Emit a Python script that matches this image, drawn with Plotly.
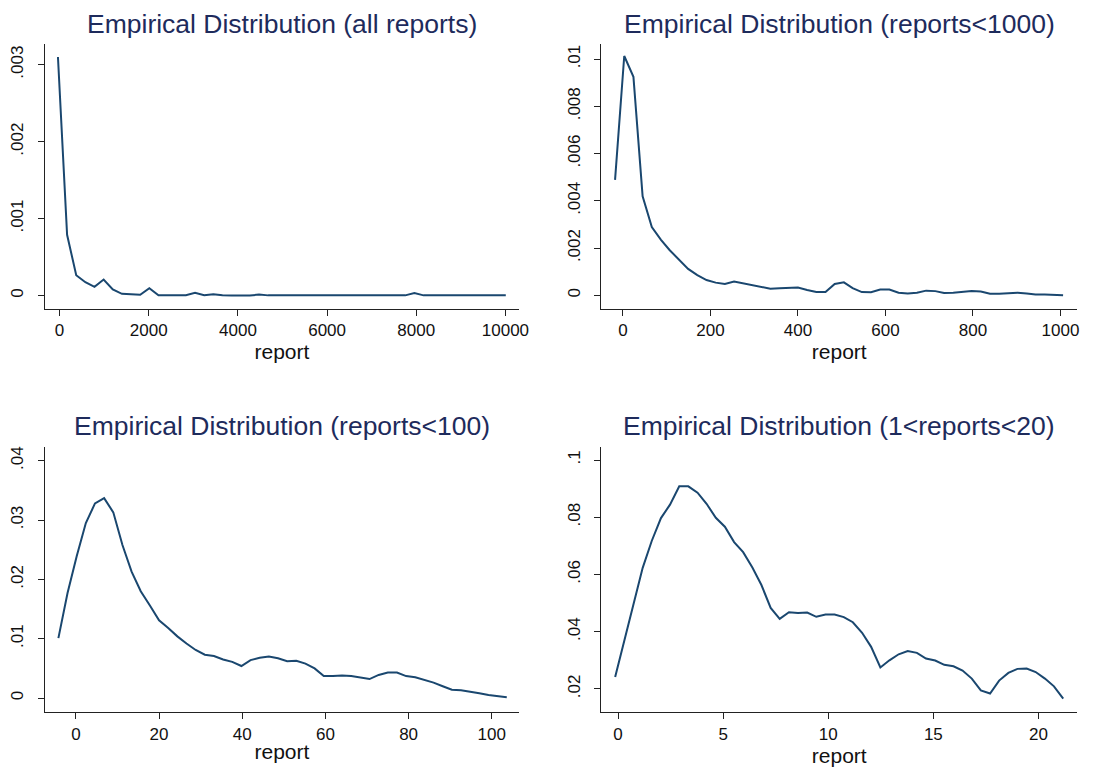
import plotly.graph_objects as go

# ---------------- data ----------------
titles = ["Empirical Distribution (all reports)",
          "Empirical Distribution (reports<1000)",
          "Empirical Distribution (reports<100)",
          "Empirical Distribution (1<reports<20)"]
x_label = "report"

# Panel 1: all reports
p1_x = [-37, 168, 373, 578, 783, 988, 1193, 1398, 1603, 1808,
        2013, 2218, 2423, 2628, 2833, 3038, 3243, 3448, 3653, 3858,
        4063, 4268, 4473, 4678, 4883, 5088, 5293, 5498, 5703, 5908,
        6113, 6318, 6523, 6728, 6933, 7138, 7343, 7548, 7753, 7958,
        8163, 8368, 8573, 8778, 8983, 9188, 9393, 9598, 9803, 10008]
p1_y = [0.00310, 0.00079, 0.000264, 0.000173, 0.000113, 0.000208, 0.000078, 0.000022, 0.000017, 0.000009,
        0.000095, 0.000004, 0.000004, 0.000002, 0.000004, 0.000035, 0.000003, 0.000018, 0.000003, 0.000001,
        0.000001, 0.000001, 0.000012, 0.000002, 0.000004, 0.000005, 0.000003, 0.000004, 0.000002, 0.000002,
        0.000002, 0.000002, 0.000002, 0.000002, 0.000006, 0.000005, 0.000003, 0.000002, 0.000002, 0.000032,
        0.000002, 0.000002, 0.000002, 0.000002, 0.000010, 0.000002, 0.000002, 0.000002, 0.000002, 0.000002]

# Panel 2: reports < 1000
p2_x = [-18, 3, 24, 45, 66, 87, 107, 128, 149, 170,
        191, 212, 233, 254, 275, 296, 316, 337, 358, 379,
        400, 421, 442, 463, 484, 505, 525, 546, 567, 588,
        609, 630, 651, 672, 693, 714, 734, 755, 776, 797,
        818, 839, 860, 881, 902, 923, 943, 964, 985, 1006]
p2_y = [0.00489, 0.01013, 0.00925, 0.00419, 0.00289, 0.00235, 0.00191, 0.00150, 0.00112, 0.00086,
        0.00065, 0.00054, 0.00048, 0.00059, 0.00051, 0.00045, 0.00035, 0.00028, 0.00030, 0.00033,
        0.00033, 0.00023, 0.00014, 0.00014, 0.00048, 0.00055, 0.00031, 0.00014, 0.00013, 0.00025,
        0.00025, 0.00011, 0.00008, 0.00011, 0.00020, 0.00018, 0.00010, 0.00011, 0.00014, 0.00018,
        0.00016, 0.00007, 0.00007, 0.00008, 0.00011, 0.00008, 0.00004, 0.00004, 0.00001, 0.00001]

# Panel 3: reports < 100
p3_x = [-4.2, -2.0, 0.2, 2.4, 4.6, 6.8, 9.0, 11.2, 13.4, 15.6,
        17.8, 20.0, 22.2, 24.4, 26.6, 28.8, 31.0, 33.2, 35.4, 37.6,
        39.8, 42.0, 44.2, 46.4, 48.6, 50.8, 53.0, 55.2, 57.4, 59.6,
        61.8, 64.0, 66.2, 68.4, 70.6, 72.8, 75.0, 77.2, 79.4, 81.6,
        83.8, 86.0, 88.2, 90.4, 92.6, 94.8, 97.0, 99.2, 101.4, 103.6]
p3_y = [0.0101, 0.0177, 0.0239, 0.0295, 0.0328, 0.0337, 0.0313, 0.0258, 0.0213, 0.0180,
        0.0156, 0.0131, 0.0118, 0.0104, 0.0092, 0.0081, 0.0073, 0.0071, 0.0065, 0.0061,
        0.0054, 0.0064, 0.0068, 0.0070, 0.0067, 0.0062, 0.0063, 0.0058, 0.0050, 0.0037,
        0.0037, 0.0038, 0.0037, 0.0035, 0.0032, 0.0039, 0.0043, 0.0043, 0.0037, 0.0035,
        0.0031, 0.0026, 0.0020, 0.0014, 0.0013, 0.0011, 0.0008, 0.0005, 0.0003, 0.00015]

# Panel 4: 1 < reports < 20
p4_x = [-0.14, 0.30, 0.73, 1.17, 1.60, 2.04, 2.47, 2.91, 3.34, 3.78,
        4.21, 4.65, 5.08, 5.52, 5.95, 6.39, 6.82, 7.26, 7.69, 8.13,
        8.56, 9.00, 9.43, 9.87, 10.30, 10.74, 11.17, 11.61, 12.04, 12.48,
        12.91, 13.35, 13.78, 14.22, 14.65, 15.09, 15.52, 15.96, 16.39, 16.83,
        17.26, 17.70, 18.13, 18.57, 19.00, 19.44, 19.87, 20.31, 20.74, 21.18]
p4_y = [0.0242, 0.0373, 0.0501, 0.0623, 0.0717, 0.0797, 0.0844, 0.0908, 0.0908, 0.0886,
        0.0847, 0.0798, 0.0767, 0.0713, 0.0678, 0.0624, 0.0563, 0.0483, 0.0445, 0.0468,
        0.0465, 0.0467, 0.0452, 0.0460, 0.0460, 0.0451, 0.0433, 0.0396, 0.0347, 0.0275,
        0.0300, 0.0321, 0.0332, 0.0326, 0.0306, 0.0299, 0.0284, 0.0279, 0.0264, 0.0236,
        0.0195, 0.0184, 0.0229, 0.0256, 0.0270, 0.0271, 0.0259, 0.0236, 0.0209, 0.0166]

# tick values / labels
p1_xticks = [0, 2000, 4000, 6000, 8000, 10000]
p1_xlabels = ["0", "2000", "4000", "6000", "8000", "10000"]
p1_yticks = [0, 0.001, 0.002, 0.003]
p1_ylabels = ["0", ".001", ".002", ".003"]
p2_xticks = [0, 200, 400, 600, 800, 1000]
p2_xlabels = ["0", "200", "400", "600", "800", "1000"]
p2_yticks = [0, 0.002, 0.004, 0.006, 0.008, 0.01]
p2_ylabels = ["0", ".002", ".004", ".006", ".008", ".01"]
p3_xticks = [0, 20, 40, 60, 80, 100]
p3_xlabels = ["0", "20", "40", "60", "80", "100"]
p3_yticks = [0, 0.01, 0.02, 0.03, 0.04]
p3_ylabels = ["0", ".01", ".02", ".03", ".04"]
p4_xticks = [0, 5, 10, 15, 20]
p4_xlabels = ["0", "5", "10", "15", "20"]
p4_yticks = [0.02, 0.04, 0.06, 0.08, 0.1]
p4_ylabels = [".02", ".04", ".06", ".08", ".1"]

# ---------------- layout / style ----------------
OFF = 8                      # page body margin of the browser
W, H = 1096 - OFF, 769 - OFF
LINE_COLOR = "#1a476f"
TITLE_COLOR = "#1e2b5c"
AXIS_COLOR = "#222222"
FONT = "Liberation Sans, Arial, sans-serif"

# plot-area boxes in screen pixels: (left, right, top, bottom)
boxes = [(45, 524, 43, 308), (607, 1087, 43, 308),
         (45, 524, 447, 712), (607, 1087, 447, 712)]
xranges = [[-335, 10310], [-49, 1038], [-7.5, 106.6], [-0.79, 21.84]]
yranges = [[-0.00017, 0.00327], [-0.00056, 0.01064], [-0.00236, 0.04224], [0.0119, 0.1044]]

series = [(p1_x, p1_y), (p2_x, p2_y), (p3_x, p3_y), (p4_x, p4_y)]
xticks = [(p1_xticks, p1_xlabels), (p2_xticks, p2_xlabels),
          (p3_xticks, p3_xlabels), (p4_xticks, p4_xlabels)]
yticks = [(p1_yticks, p1_ylabels), (p2_yticks, p2_ylabels),
          (p3_yticks, p3_ylabels), (p4_yticks, p4_ylabels)]

fig = go.Figure()
layout = dict(width=W, height=H, margin=dict(l=0, r=0, t=0, b=0),
              paper_bgcolor="white", plot_bgcolor="white",
              showlegend=False, font=dict(family=FONT, color="#111111"))
annotations = []

for i, ((xs, ys), box) in enumerate(zip(series, boxes)):
    n = "" if i == 0 else str(i + 1)
    fig.add_trace(go.Scatter(x=xs, y=ys, mode="lines",
                             line=dict(color=LINE_COLOR, width=2),
                             xaxis="x" + n, yaxis="y" + n, hoverinfo="skip"))
    l, r, t, b = [v - OFF for v in box]
    common = dict(showgrid=False, zeroline=False, showline=True, linecolor=AXIS_COLOR,
                  linewidth=1.3, ticks="outside", ticklen=6, tickwidth=1.3,
                  tickcolor=AXIS_COLOR, mirror=False,
                  tickfont=dict(size=17, family=FONT, color="#111111"))
    xv, xt = xticks[i]
    layout["xaxis" + n] = dict(common, domain=[l / W, r / W], range=xranges[i],
                               anchor="y" + n, tickmode="array", tickvals=xv, ticktext=xt,
                               title=dict(text=x_label, font=dict(size=21, family=FONT, color="#111111"),
                                          standoff=1))
    tv, tt = yticks[i]
    layout["yaxis" + n] = dict(common, domain=[1 - b / H, 1 - t / H], range=yranges[i],
                               anchor="x" + n, tickmode="array", tickvals=tv, ticktext=tt,
                               tickangle=-90, ticklabelstandoff=8)
    # title centred over the plot region (Stata default)
    cx = ((l + r) / 2) / W
    cy = (23 if i < 2 else 426) - OFF
    annotations.append(dict(text=titles[i], x=cx, y=1 - cy / H, xref="paper", yref="paper",
                            xanchor="center", yanchor="middle", showarrow=False,
                            font=dict(size=26.5, family=FONT, color=TITLE_COLOR)))

layout["annotations"] = annotations
fig.update_layout(**layout)
fig.write_html("out.html")
